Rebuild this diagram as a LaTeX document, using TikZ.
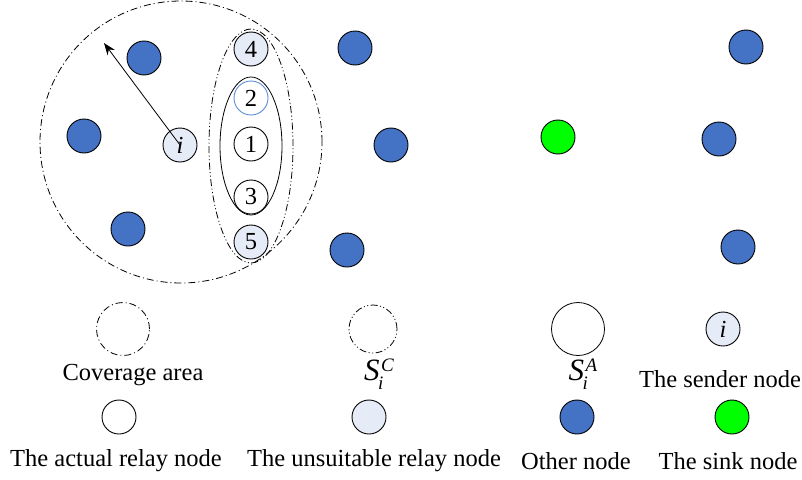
\documentclass[tikz,border=0pt]{standalone}
\usepackage{fontspec}
\setmainfont{Liberation Serif}
\usetikzlibrary{arrows.meta,shapes.geometric}
\definecolor{nodeblue}{HTML}{4472C4}
\definecolor{palefill}{HTML}{E6ECF7}
\definecolor{sinkgreen}{HTML}{00FF00}
\definecolor{ringblue}{HTML}{5B8BD6}
% set S with a stacked subscript i and a superscript
\newcommand{\setSym}[1]{{\fontsize{31}{34}\selectfont\textit{S}}%
  \makebox[0pt][l]{\kern-1.5pt\raisebox{-9pt}{\fontsize{19}{19}\selectfont\textit{i}}}%
  \kern1.5pt\raisebox{9pt}{\fontsize{19}{19}\selectfont\textit{#1}}}
\begin{document}
\begin{tikzpicture}[x=1pt,y=-1pt,
  font=\fontsize{24.5}{28}\selectfont,
  nd/.style={circle,draw,line width=0.9pt,minimum size=34pt,inner sep=0pt},
  other/.style={nd,fill=nodeblue},
  unsuit/.style={nd,fill=palefill},
  relay/.style={nd,fill=white},
  sink/.style={nd,fill=sinkgreen},
  cover/.style={line width=0.8pt,dash pattern=on 7pt off 3pt on 1pt off 3pt},
  cand/.style={line width=0.8pt,dash pattern=on 7pt off 2.5pt on 1pt off 2.5pt on 1pt off 2.5pt},
  lbl/.style={inner sep=0pt}]
\useasboundingbox (0,0) rectangle (802,479);

% coverage area of the sender and the two relay sets
\node[cover,circle,draw,minimum size=282pt,inner sep=0pt] (cov) at (181,142) {};
\node[cand,ellipse,draw,minimum width=84pt,minimum height=234pt,inner sep=0pt] (sc) at (251,146) {};
\node[line width=0.8pt,ellipse,draw,minimum width=62pt,minimum height=138pt,inner sep=0pt] (sa) at (251,146) {};

% nodes inside the coverage area
\node[unsuit] (i) at (180,145) {\textit{i}};
\node[other] (o1) at (144,58) {};
\node[other] (o2) at (84,136) {};
\node[other] (o3) at (128,229) {};
\node[unsuit] (n4) at (251,49) {4};
\node[relay,draw=ringblue] (n2) at (251,98) {2};
\node[relay] (n1) at (251,144) {1};
\node[relay] (n3) at (251,197) {3};
\node[unsuit] (n5) at (251,242) {5};

% communication radius
\coordinate (tip) at (104,43);
\draw[line width=0.8pt,-{Stealth[length=12pt,width=9pt]}] (i.center) -- (tip);

% remaining nodes of the network
\node[other] (o4) at (355,48) {};
\node[other] (o5) at (391,145) {};
\node[other] (o6) at (347,250) {};
\node[sink] (sk) at (558,137) {};
\node[other] (o7) at (746,47) {};
\node[other] (o8) at (719,139) {};
\node[other] (o9) at (738,247) {};

% legend, first row
\node[cover,circle,draw,minimum size=53pt,inner sep=0pt] (lcov) at (123,329) {};
\node[lbl] (tcov) at (133,375) {Coverage area};
\node[cand,circle,draw,minimum size=48pt,inner sep=0pt] (lsc) at (373,329) {};
\node[lbl,anchor=base] (tsc) at (379,380) {\setSym{C}};
\node[line width=0.8pt,circle,draw,minimum size=53pt,inner sep=0pt] (lsa) at (578,329) {};
\node[lbl,anchor=base] (tsa) at (583,380) {\setSym{A}};
\node[unsuit] (lsend) at (723,329) {\textit{i}};
\node[lbl] (tsend) at (720,379) {The sender node};

% legend, second row
\node[relay] (lrel) at (119,417) {};
\node[lbl] (trel) at (116,461) {The actual relay node};
\node[unsuit] (lun) at (369,417) {};
\node[lbl] (tun) at (374,461) {The unsuitable relay node};
\node[other] (loth) at (577,417) {};
\node[lbl] (toth) at (576,461) {Other node};
\node[sink] (lsink) at (732,417) {};
\node[lbl] (tsink) at (728,461) {The sink node};
\end{tikzpicture}
\end{document}
